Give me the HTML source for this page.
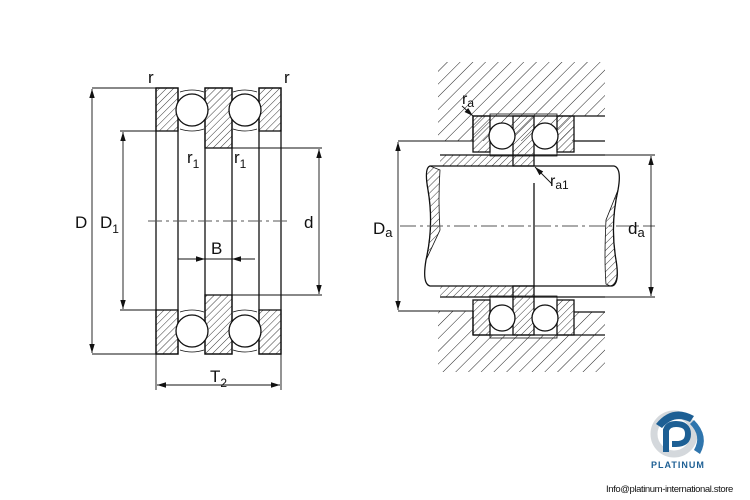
<!DOCTYPE html>
<html><head><meta charset="utf-8"><style>
html,body{margin:0;padding:0;background:#fff;width:750px;height:500px;overflow:hidden}
text{font-family:"Liberation Sans",sans-serif;fill:#111}
</style></head><body>
<svg width="750" height="500" viewBox="0 0 750 500" xmlns="http://www.w3.org/2000/svg">
<defs>
<pattern id="h" patternUnits="userSpaceOnUse" width="5" height="5" patternTransform="rotate(45)"><line x1="0" y1="0" x2="0" y2="5" stroke="#222" stroke-width="0.9"/></pattern>
<pattern id="hh" patternUnits="userSpaceOnUse" width="9" height="9" patternTransform="rotate(45)"><line x1="0" y1="0" x2="0" y2="9" stroke="#222" stroke-width="1"/></pattern>
<marker id="a" viewBox="0 0 10 10" refX="10" refY="5" markerWidth="9" markerHeight="9" orient="auto-start-reverse" markerUnits="userSpaceOnUse"><path d="M0,2 L10,5 L0,8 z" fill="#111"/></marker>
</defs>
<g stroke="#111" stroke-width="1.3" fill="none">
<rect x="156" y="88" width="22" height="266"/>
<rect x="205" y="88" width="27" height="266"/>
<rect x="259" y="88" width="22" height="266"/>
<rect x="156" y="88" width="22" height="43" fill="url(#h)"/>
<rect x="156" y="310" width="22" height="44" fill="url(#h)"/>
<rect x="259" y="88" width="22" height="43" fill="url(#h)"/>
<rect x="259" y="310" width="22" height="44" fill="url(#h)"/>
<rect x="205" y="88" width="27" height="60" fill="url(#h)"/>
<rect x="205" y="295" width="27" height="59" fill="url(#h)"/>
<g fill="#fff">
<circle cx="192" cy="110" r="16"/><circle cx="245" cy="110" r="16"/>
<circle cx="192" cy="331" r="16"/><circle cx="245" cy="331" r="16"/>
</g>
<g stroke-width="0.8">
<path d="M180,92 q12,-4 24,0 M180,129 q12,4 24,0 M233,92 q12,-4 24,0 M233,129 q12,4 24,0"/>
<path d="M180,312 q12,-4 24,0 M180,350 q12,4 24,0 M233,312 q12,-4 24,0 M233,350 q12,4 24,0"/>
</g>
<g stroke-width="0.9">
<line x1="92" y1="88" x2="156" y2="88"/><line x1="92" y1="354" x2="156" y2="354"/>
<line x1="92" y1="89" x2="92" y2="353" marker-start="url(#a)" marker-end="url(#a)"/>
<line x1="120" y1="131" x2="156" y2="131"/><line x1="120" y1="310" x2="156" y2="310"/>
<line x1="123" y1="132" x2="123" y2="309" marker-start="url(#a)" marker-end="url(#a)"/>
<line x1="232" y1="148" x2="322" y2="148"/><line x1="232" y1="295" x2="322" y2="295"/>
<line x1="319" y1="149" x2="319" y2="294" marker-start="url(#a)" marker-end="url(#a)"/>
<line x1="148" y1="221" x2="290" y2="221" stroke-dasharray="14,4,3,4" stroke="#555"/>
<line x1="178" y1="259" x2="205" y2="259" marker-end="url(#a)"/>
<line x1="255" y1="259" x2="232" y2="259" marker-end="url(#a)"/>
<line x1="205" y1="259" x2="232" y2="259"/>
<line x1="156" y1="354" x2="156" y2="390"/><line x1="281" y1="354" x2="281" y2="390"/>
<line x1="157" y1="385" x2="280" y2="385" marker-start="url(#a)" marker-end="url(#a)"/>
</g>
<path d="M438,62 L605,62 L605,116 L574,116 L574,141 L473,141 L473,141 L438,141 Z" fill="url(#hh)" stroke="none"/>
<path d="M438,372 L605,372 L605,312 L574,312 L574,335 L473,335 L473,311 L438,311 Z" fill="url(#hh)" stroke="none"/>
<line x1="398" y1="141" x2="473" y2="141" stroke-width="0.9"/>
<line x1="398" y1="311" x2="473" y2="311" stroke-width="0.9"/>
<line x1="473" y1="116" x2="605" y2="116"/><line x1="574" y1="141" x2="605" y2="141"/>
<line x1="473" y1="335" x2="605" y2="335"/><line x1="574" y1="312" x2="605" y2="312"/>
<line x1="473" y1="116" x2="473" y2="141"/><line x1="473" y1="311" x2="473" y2="335"/>
<rect x="440" y="155" width="73" height="11" fill="url(#h)" stroke="none"/>
<rect x="440" y="286" width="73" height="11" fill="url(#h)" stroke="none"/>
<line x1="440" y1="155" x2="605" y2="155"/><line x1="440" y1="297" x2="605" y2="297"/>
<path d="M430,166 L614,166 Q622,168 618,190 Q610,225 616,260 Q620,284 612,286 L430,286 Q422,284 426,260 Q434,225 428,190 Q424,168 430,166 Z" fill="#fff"/>
<path d="M430,166 Q424,168 428,190 Q434,225 426,260 L440,230 Q438,200 440,170 Z" fill="url(#h)" stroke-width="0.8"/>
<path d="M610,286 Q620,284 616,260 Q610,225 618,190 L606,220 Q604,260 606,284 Z" fill="url(#h)" stroke-width="0.8"/>
<line x1="534" y1="183" x2="534" y2="286"/>
<line x1="400" y1="226" x2="655" y2="226" stroke-dasharray="16,4,3,4" stroke="#555" stroke-width="0.9"/>
<rect x="490" y="114" width="67" height="42" stroke-width="0.8"/>
<rect x="473" y="116" width="17" height="36" fill="url(#h)"/>
<rect x="513" y="116" width="21" height="50" fill="url(#h)"/>
<rect x="557" y="116" width="17" height="36" fill="url(#h)"/>
<circle cx="502" cy="136" r="13" fill="#fff"/><circle cx="545" cy="136" r="13" fill="#fff"/>
<rect x="490" y="296" width="67" height="42" stroke-width="0.8"/>
<rect x="473" y="300" width="17" height="35" fill="url(#h)"/>
<rect x="513" y="286" width="21" height="49" fill="url(#h)"/>
<rect x="557" y="300" width="17" height="35" fill="url(#h)"/>
<circle cx="502" cy="318" r="13" fill="#fff"/><circle cx="545" cy="318" r="13" fill="#fff"/>
<g stroke-width="0.9">
<line x1="398" y1="142" x2="398" y2="310" marker-start="url(#a)" marker-end="url(#a)"/>
<line x1="651" y1="156" x2="651" y2="296" marker-start="url(#a)" marker-end="url(#a)"/>
<line x1="605" y1="155" x2="655" y2="155"/><line x1="605" y1="297" x2="655" y2="297"/>
<line x1="462" y1="106" x2="473" y2="116" marker-end="url(#a)"/>
<line x1="552" y1="184" x2="535" y2="167" marker-end="url(#a)"/>
</g>
</g>
<text x="148" y="83" font-size="17">r</text>
<text x="284" y="83" font-size="17">r</text>
<text x="187" y="163" font-size="17">r<tspan font-size="12" dy="5">1</tspan></text>
<text x="234" y="163" font-size="17">r<tspan font-size="12" dy="5">1</tspan></text>
<text x="75" y="228" font-size="17">D</text>
<text x="100" y="228" font-size="17">D<tspan font-size="12" dy="5">1</tspan></text>
<text x="304" y="228" font-size="17">d</text>
<text x="211" y="254" font-size="17">B</text>
<text x="210" y="382" font-size="17">T<tspan font-size="12" dy="5">2</tspan></text>
<text x="462" y="104" font-size="16">r<tspan font-size="12" dy="3">a</tspan></text>
<text x="550" y="186" font-size="16">r<tspan font-size="12" dy="3">a1</tspan></text>
<text x="373" y="234" font-size="17">D<tspan font-size="13" dy="3">a</tspan></text>
<text x="628" y="234" font-size="17">d<tspan font-size="13" dy="3">a</tspan></text>
<g>
<circle cx="674" cy="434" r="20" fill="none" stroke="#d4d8dc" stroke-width="7"/>
<path d="M656,424 Q672,404 694,416 L690,422 Q674,414 662,428 Z" fill="#1d5f94"/>
<path d="M694,420 Q710,436 700,454 L694,450 Q702,436 690,424 Z" fill="#2f75ad"/>
<path d="M666,452 L666,430 Q668,424 676,424 Q688,424 688,434 Q688,444 676,444 L672,444" fill="none" stroke="#1d5f94" stroke-width="6"/>
<text x="651" y="468" font-size="9" font-weight="bold" style="fill:#1d5f94;letter-spacing:1px">PLATINUM</text>
<text x="606" y="492" font-size="9.5" style="letter-spacing:-0.4px">Info@platinum-international.store</text>
</g>
</svg>
</body></html>
